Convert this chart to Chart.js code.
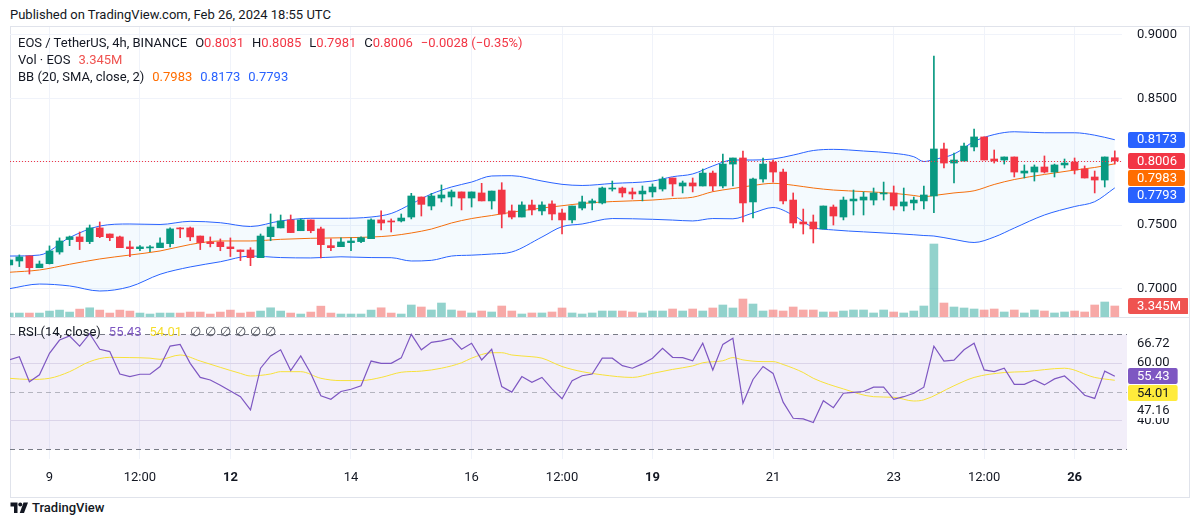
<!DOCTYPE html>
<html>
<head>
<meta charset="utf-8">
<script src="https://cdn.jsdelivr.net/npm/chart.js@4.4.1/dist/chart.umd.min.js"></script>
<style>
body{margin:0;background:#fff;width:1200px;height:525px;overflow:hidden;position:relative;font-family:Roboto,"Noto Sans",sans-serif;color:#131722}
.abs{position:absolute;white-space:nowrap;font-size:13px;line-height:16px}
.k{margin-left:8px}
.r{color:#F23645}
.gap{margin-left:8px}
canvas{position:absolute}
</style>
</head>
<body>
<div class="abs" style="left:10px;top:7px">Published on TradingView.com, Feb 26, 2024 18:55 UTC</div>
<div style="position:absolute;left:10px;top:26px;width:1178px;height:470px;border:1px solid #e0e3eb"></div>
<canvas id="price" width="1178" height="290" style="left:10px;top:27px"></canvas>
<div style="position:absolute;left:11px;top:317px;width:1178px;height:1px;background:#e0e3eb"></div>
<canvas id="rsi" width="1178" height="179" style="left:10px;top:318px"></canvas>

<div class="abs" style="left:18px;top:35px">EOS / TetherUS, 4h, BINANCE<span class="k">O</span><span class="r" id="lo"></span><span class="k">H</span><span class="r" id="lh"></span><span class="k">L</span><span class="r" id="ll"></span><span class="k">C</span><span class="r" id="lc"></span><span class="r gap">−0.0028 (−0.35%)</span></div>
<div class="abs" style="left:18px;top:52px">Vol · EOS<span class="gap" id="lv" style="color:#ef5350"></span></div>
<div class="abs" style="left:18px;top:69px">BB (20, SMA, close, 2)<span class="gap" id="lbm" style="color:#FF6D00"></span><span class="gap" id="lbu" style="color:#2962FF"></span><span class="gap" id="lbl" style="color:#2962FF"></span></div>
<div class="abs" style="left:18px;top:324px">RSI (14, close)<span class="gap" id="lr" style="color:#7E57C2"></span><span class="gap" id="lrm" style="color:#f5dd2a"></span><span class="gap" style="color:#434651;letter-spacing:4px">∅∅∅∅∅∅</span></div>

<div class="abs" style="left:10px;top:500px;font-weight:500;font-size:13px">
<svg width="19" height="13" viewBox="0 0 36 26" style="vertical-align:-2px;margin-right:3px"><path d="M14 24H7V11H0V3h14v21Z" fill="#131722"/><circle cx="19.5" cy="7" r="4" fill="#131722"/><path d="M27 24h-8.5L26 3h9L27 24Z" fill="#131722"/></svg>TradingView</div>

<script>
// time axis (candle index -> label)
const tickIdx  = [4, 13, 22, 34, 46, 55, 64, 76, 88, 97, 106];
const tickText = ['9', '12:00', '12', '14', '16', '12:00', '19', '21', '23', '12:00', '26'];
const boldIdx  = [22, 64, 106];

// 4h candles, Feb 8 08:00 .. Feb 26 16:00
const opens = [0.7185,0.7216,0.7256,0.7163,0.7195,0.7287,0.7385,0.7406,0.7369,0.7477,
  0.7429,0.7406,0.7327,0.7313,0.7319,0.7321,0.7353,0.7477,0.7477,0.7413,
  0.7366,0.7366,0.7327,0.7303,0.7303,0.7242,0.7408,0.7477,0.7540,0.7455,
  0.7540,0.7469,0.7337,0.7329,0.7361,0.7369,0.7392,0.7540,0.7532,0.7532,
  0.7563,0.7721,0.7650,0.7713,0.7721,0.7761,0.7713,0.7753,0.7690,0.7776,
  0.7611,0.7563,0.7658,0.7611,0.7666,0.7595,0.7540,0.7634,0.7674,0.7674,
  0.7784,0.7792,0.7761,0.7745,0.7761,0.7784,0.7871,0.7808,0.7832,0.7808,
  0.7910,0.7808,0.7981,0.8029,0.7682,0.7863,0.7997,0.7918,0.7697,0.7524,
  0.7524,0.7469,0.7642,0.7563,0.7690,0.7697,0.7697,0.7745,0.7753,0.7650,
  0.7674,0.7690,0.7729,0.8100,0.7989,0.8005,0.8116,0.8195,0.8021,0.8013,
  0.8037,0.7910,0.7918,0.7958,0.7918,0.7974,0.7997,0.7942,0.7879,0.7855,
  0.8031];
const highs = [0.7235,0.7264,0.7256,0.7216,0.7335,0.7398,0.7413,0.7445,0.7500,0.7524,
  0.7429,0.7413,0.7374,0.7337,0.7337,0.7398,0.7477,0.7480,0.7484,0.7413,
  0.7406,0.7390,0.7398,0.7303,0.7321,0.7429,0.7587,0.7579,0.7579,0.7548,
  0.7540,0.7484,0.7390,0.7398,0.7398,0.7406,0.7548,0.7611,0.7548,0.7587,
  0.7750,0.7721,0.7750,0.7816,0.7776,0.7761,0.7761,0.7829,0.7768,0.7834,
  0.7658,0.7682,0.7697,0.7682,0.7690,0.7626,0.7650,0.7729,0.7705,0.7800,
  0.7847,0.7800,0.7792,0.7808,0.7824,0.7879,0.7871,0.7847,0.7871,0.7942,
  0.7926,0.8060,0.8029,0.8084,0.7871,0.8029,0.8013,0.7942,0.7753,0.7626,
  0.7579,0.7650,0.7658,0.7721,0.7776,0.7761,0.7792,0.7839,0.7808,0.7792,
  0.7721,0.7808,0.8834,0.8147,0.8068,0.8147,0.8258,0.8195,0.8092,0.8037,
  0.8037,0.7974,0.7974,0.8045,0.7981,0.8021,0.8029,0.7966,0.7926,0.8037,
  0.8085];
const lows = [0.7180,0.7172,0.7113,0.7163,0.7192,0.7270,0.7337,0.7306,0.7353,0.7400,
  0.7376,0.7321,0.7251,0.7297,0.7290,0.7321,0.7327,0.7400,0.7376,0.7306,
  0.7327,0.7297,0.7251,0.7219,0.7179,0.7242,0.7376,0.7477,0.7440,0.7455,
  0.7439,0.7240,0.7297,0.7329,0.7297,0.7361,0.7392,0.7461,0.7445,0.7524,
  0.7548,0.7571,0.7619,0.7682,0.7650,0.7619,0.7642,0.7690,0.7626,0.7477,
  0.7548,0.7563,0.7579,0.7579,0.7540,0.7429,0.7516,0.7619,0.7619,0.7666,
  0.7768,0.7721,0.7705,0.7690,0.7721,0.7768,0.7729,0.7753,0.7761,0.7808,
  0.7768,0.7792,0.7808,0.7524,0.7555,0.7839,0.7839,0.7666,0.7477,0.7429,
  0.7358,0.7469,0.7500,0.7540,0.7579,0.7579,0.7658,0.7697,0.7619,0.7611,
  0.7619,0.7626,0.7597,0.7950,0.7832,0.8005,0.8084,0.8013,0.7989,0.7981,
  0.7879,0.7871,0.7847,0.7910,0.7879,0.7950,0.7903,0.7871,0.7753,0.7800,
  0.7981];
const closes = [0.7224,0.7248,0.7163,0.7192,0.7295,0.7374,0.7406,0.7369,0.7477,0.7408,
  0.7400,0.7321,0.7313,0.7327,0.7327,0.7358,0.7469,0.7469,0.7406,0.7361,
  0.7353,0.7329,0.7313,0.7290,0.7242,0.7413,0.7484,0.7532,0.7440,0.7540,
  0.7455,0.7345,0.7321,0.7366,0.7374,0.7400,0.7540,0.7516,0.7524,0.7555,
  0.7729,0.7663,0.7729,0.7737,0.7761,0.7713,0.7761,0.7690,0.7768,0.7587,
  0.7563,0.7658,0.7619,0.7658,0.7587,0.7540,0.7650,0.7682,0.7690,0.7792,
  0.7792,0.7753,0.7745,0.7768,0.7800,0.7863,0.7824,0.7832,0.7808,0.7910,
  0.7808,0.7981,0.8029,0.7674,0.7863,0.7981,0.7918,0.7690,0.7516,0.7508,
  0.7469,0.7650,0.7571,0.7697,0.7705,0.7721,0.7753,0.7753,0.7650,0.7682,
  0.7697,0.7737,0.8100,0.7989,0.8013,0.8123,0.8195,0.8013,0.8005,0.8037,
  0.7918,0.7926,0.7958,0.7918,0.7974,0.7989,0.7934,0.7871,0.7855,0.8037,
  0.8006];
// volume, millions of EOS
const volumes = [1.2,1.2,1.2,1.2,1.8,2.1,1.5,2.4,2.8,2.1,
  1.2,2.1,1.8,1.2,0.9,1.2,1.2,1.2,1.5,1.5,
  0.9,1.5,2.1,1.2,1.5,1.8,2.8,1.8,1.2,0.9,
  1.5,3.3,1.2,0.9,0.9,0.9,2.1,2.8,1.2,0.9,
  3.65,3.04,2.13,4.25,2.13,1.82,1.22,1.82,1.52,3.34,
  1.82,0.91,1.22,1.22,1.52,2.74,1.22,0.91,1.22,1.82,
  1.82,1.82,1.52,1.22,1.82,1.82,2.43,1.82,2.43,1.82,
  2.74,3.65,2.74,5.47,3.95,1.82,2.13,1.82,3.04,2.13,
  2.13,1.52,1.52,1.82,2.13,2.13,1.22,2.13,1.52,1.22,
  1.82,3.34,22.2,4.25,3.04,2.74,2.43,2.13,2.43,1.52,
  2.13,1.22,2.13,1.82,1.22,1.52,1.82,1.52,3.65,4.56,
  3.345];

// Bollinger bands read at these candle indices
const bbIdx = [0,3,6,9,12,15,18,21,24,27,30,33,36,38,40,42,44,46,48,50,53,55,57,60,64,66,68,70,72,74,76,78,80,82,85,88,90,91,92,94,96,98,100,103,106,108,110];
const bbUpper = [0.7255,0.7263,0.7401,0.7492,0.7508,0.7504,0.7529,0.7518,0.7488,0.7532,
  0.7553,0.7553,0.7563,0.7591,0.7666,0.7745,0.7800,0.7839,0.7887,0.7889,
  0.7847,0.7821,0.7812,0.7828,0.7847,0.7881,0.7903,0.7966,0.8013,0.8013,
  0.8021,0.8052,0.8088,0.8097,0.8084,0.8066,0.8039,0.8001,0.8017,0.8060,
  0.8159,0.8214,0.8236,0.8228,0.8228,0.8209,0.8173];
const bbMiddle = [0.7127,0.7145,0.7190,0.7232,0.7263,0.7295,0.7346,0.7374,0.7374,0.7387,
  0.7395,0.7399,0.7405,0.7415,0.7437,0.7468,0.7516,0.7551,0.7575,0.7601,
  0.7634,0.7652,0.7670,0.7685,0.7697,0.7709,0.7719,0.7763,0.7788,0.7812,
  0.7829,0.7814,0.7792,0.7776,0.7764,0.7750,0.7733,0.7723,0.7733,0.7753,
  0.7770,0.7820,0.7859,0.7899,0.7934,0.7954,0.7983];
const bbLower = [0.6997,0.7034,0.7019,0.6979,0.7013,0.7111,0.7169,0.7210,0.7255,0.7243,
  0.7240,0.7249,0.7243,0.7242,0.7216,0.7221,0.7255,0.7262,0.7271,0.7287,
  0.7405,0.7487,0.7508,0.7551,0.7545,0.7539,0.7532,0.7551,0.7549,0.7595,
  0.7638,0.7577,0.7482,0.7461,0.7446,0.7433,0.7423,0.7417,0.7413,0.7386,
  0.7362,0.7405,0.7476,0.7579,0.7646,0.7684,0.7793];

// RSI (14) per candle, and its moving average read at these indices
const rsi = [61.1,62.2,53.5,55.9,63.4,68.0,69.4,65.9,70.2,64.8,
  64.0,56.2,55.3,56.1,56.1,58.8,65.9,66.5,59.9,55.0,
  54.1,52.3,50.3,48.3,43.7,58.2,62.5,64.6,57.4,62.5,
  56.4,48.6,47.4,50.1,50.9,52.1,60.7,59.9,59.9,61.8,
  70.0,64.6,67.2,67.7,68.6,64.8,66.9,61.1,64.8,51.8,
  49.9,55.3,53.3,55.0,51.0,47.6,53.9,55.6,56.2,61.7,
  61.7,59.1,58.2,59.7,61.7,65.1,62.0,61.9,60.8,66.9,
  57.6,66.5,68.6,46.0,54.3,58.8,56.4,46.4,40.8,40.6,
  39.3,46.9,44.5,49.5,49.8,50.1,51.6,51.6,47.4,48.3,
  49.5,51.6,65.9,60.7,61.0,64.6,66.9,57.6,57.0,58.2,
  52.6,52.6,54.1,52.4,54.5,55.5,52.4,48.8,47.7,57.2,
  55.43];
const rsiMaIdx = [0,2,4,6,8,10,12,14,15,17,19,21,23,24,26,27,29,31,33,35,37,39,41,43,45,46,48,49,50,52,53,55,57,59,62,64,66,68,69,71,72,73,75,76,77,79,80,83,86,88,90,91,94,96,99,101,105,108,110];
const rsiMa = [54.7,54.3,54.7,57.0,60.5,62.0,61.9,61.7,61.3,62.8,60.7,58.5,56.4,55.5,56.2,57.0,57.0,54.7,53.9,53.9,55.0,56.8,57.2,58.2,60.1,61.7,63.6,63.6,62.8,62.2,61.7,58.8,57.0,55.9,55.0,56.4,57.8,59.0,60.1,60.8,61.9,61.1,60.5,60.5,59.5,56.7,54.7,51.0,48.3,48.1,46.8,47.2,52.1,55.0,56.7,57.0,58.2,55.0,54.01];
const rsiSideValues = [66.72, 47.16];

const priceTicks = [0.70, 0.75, 0.80, 0.85, 0.90];
const rsiTicks = [40, 60];

const FONT = 'Roboto, "Noto Sans", sans-serif';
Chart.defaults.font.family = FONT;
Chart.defaults.font.size = 13;
Chart.defaults.color = '#131722';

const UP = '#089981', DOWN = '#F23645';
const n = closes.length;
const last = n - 1;
const isUp = closes.map((c, i) => c >= opens[i]);
const candleColors = isUp.map(u => u ? UP : DOWN);
const volColors = isUp.map(u => u ? 'rgba(38,166,154,0.5)' : 'rgba(239,83,80,0.5)');

const xMin = 0.07, xMax = 110.717;
const GRID = '#f0f3fa';

// legend values
document.getElementById('lo').textContent = opens[last].toFixed(4);
document.getElementById('lh').textContent = highs[last].toFixed(4);
document.getElementById('ll').textContent = lows[last].toFixed(4);
document.getElementById('lc').textContent = closes[last].toFixed(4);
document.getElementById('lv').textContent = volumes[last].toFixed(3) + 'M';
document.getElementById('lbm').textContent = bbMiddle[bbMiddle.length - 1].toFixed(4);
document.getElementById('lbu').textContent = bbUpper[bbUpper.length - 1].toFixed(4);
document.getElementById('lbl').textContent = bbLower[bbLower.length - 1].toFixed(4);
document.getElementById('lr').textContent = rsi[last].toFixed(2);
document.getElementById('lrm').textContent = rsiMa[rsiMa.length - 1].toFixed(2);

function drawTags(ctx, items, x, w) {
  items.sort((a, b) => a.y - b.y);
  let prev = -1e9;
  ctx.save();
  ctx.font = '13px ' + FONT;
  ctx.textAlign = 'left';
  ctx.textBaseline = 'middle';
  items.forEach(it => {
    const y = Math.max(it.y, prev + 17);
    prev = y;
    const tw = Math.max(w, ctx.measureText(it.text).width + 17);
    if (it.bg) {
      ctx.fillStyle = it.bg;
      ctx.beginPath();
      if (ctx.roundRect) ctx.roundRect(x, Math.round(y - 8), tw, 16, 2); else ctx.rect(x, Math.round(y - 8), tw, 16);
      ctx.fill();
    }
    ctx.fillStyle = it.fg;
    ctx.fillText(it.text, x + 9, y + 0.5);
  });
  ctx.restore();
}

const xTicksBuild = s => { s.ticks = tickIdx.map(v => ({ value: v })); };

const priceOverlay = {
  id: 'priceOverlay',
  afterDatasetsDraw(chart) {
    const { ctx, chartArea: a, scales } = chart;
    const y = Math.round(scales.y.getPixelForValue(closes[last])) + 0.5;
    ctx.save();
    ctx.strokeStyle = DOWN;
    ctx.lineWidth = 1;
    ctx.setLineDash([1, 2]);
    ctx.beginPath();
    ctx.moveTo(a.left, y);
    ctx.lineTo(a.right, y);
    ctx.stroke();
    ctx.restore();
  },
  afterDraw(chart) {
    const { ctx, chartArea: a, scales } = chart;
    const x = a.right + 6;
    const k = bbIdx.length - 1;
    drawTags(ctx, [
      { y: scales.y.getPixelForValue(bbUpper[k]), text: bbUpper[k].toFixed(4), bg: '#2962FF', fg: '#fff' },
      { y: scales.y.getPixelForValue(closes[last]), text: closes[last].toFixed(4), bg: DOWN, fg: '#fff' },
      { y: scales.y.getPixelForValue(bbMiddle[k]), text: bbMiddle[k].toFixed(4), bg: '#FF6D00', fg: '#fff' },
      { y: scales.y.getPixelForValue(bbLower[k]), text: bbLower[k].toFixed(4), bg: '#2962FF', fg: '#fff' }
    ], x, 55);
    drawTags(ctx, [
      { y: scales.vol.getPixelForValue(volumes[last]), text: volumes[last].toFixed(3) + 'M', bg: '#ef5350', fg: '#fff' }
    ], x, 57);
  }
};

const bbPts = arr => bbIdx.map((x, k) => ({ x: x, y: arr[k] }));

new Chart(document.getElementById('price'), {
  type: 'bar',
  data: {
    datasets: [
      { type: 'line', data: bbPts(bbUpper), borderColor: '#2962FF', borderWidth: 1, pointRadius: 0,
        cubicInterpolationMode: 'monotone', fill: '+2', backgroundColor: 'rgba(33,150,243,0.05)', order: 5 },
      { type: 'line', data: bbPts(bbMiddle), borderColor: '#FF6D00', borderWidth: 1, pointRadius: 0,
        cubicInterpolationMode: 'monotone', fill: false, order: 5 },
      { type: 'line', data: bbPts(bbLower), borderColor: '#2962FF', borderWidth: 1, pointRadius: 0,
        cubicInterpolationMode: 'monotone', fill: false, order: 5 },
      { type: 'bar', yAxisID: 'vol', data: volumes.map((v, i) => ({ x: i, y: v })),
        backgroundColor: volColors, barThickness: 8, grouped: false, order: 10 },
      { type: 'bar', data: lows.map((l, i) => ({ x: i, y: [l, highs[i]] })),
        backgroundColor: candleColors, barThickness: 1, grouped: false, order: 2 },
      { type: 'bar', data: opens.map((o, i) => ({ x: i, y: [o, closes[i]] })),
        backgroundColor: candleColors, barThickness: 7, minBarLength: 1, grouped: false, order: 1 }
    ]
  },
  options: {
    responsive: false, animation: false, events: [],
    layout: { padding: 0 },
    plugins: { legend: { display: false }, tooltip: { enabled: false } },
    scales: {
      x: { type: 'linear', min: xMin, max: xMax, offset: false,
        afterBuildTicks: xTicksBuild,
        ticks: { display: false },
        grid: { color: GRID, drawTicks: false, offset: false },
        border: { display: false },
        afterFit: s => { s.height = 0; } },
      y: { position: 'right', min: 0.67739, max: 0.90628,
        afterBuildTicks: s => { s.ticks = priceTicks.map(v => ({ value: v })); },
        ticks: { callback: v => v.toFixed(4), padding: 15, color: '#131722' },
        grid: { color: GRID, drawTicks: false },
        border: { display: false },
        afterFit: s => { s.width = 66; s.paddingTop = 0; s.paddingBottom = 0; } },
      vol: { display: false, min: 0, max: 88.2 }
    }
  },
  plugins: [priceOverlay]
});

const rsiOverlay = {
  id: 'rsiOverlay',
  beforeDatasetsDraw(chart) {
    const { ctx, chartArea: a, scales: { y } } = chart;
    const y70 = Math.round(y.getPixelForValue(70)) + 0.5;
    const y50 = Math.round(y.getPixelForValue(50)) + 0.5;
    const y30 = Math.round(y.getPixelForValue(30)) + 0.5;
    ctx.save();
    ctx.fillStyle = 'rgba(126,87,194,0.1)';
    ctx.fillRect(a.left, y70, a.right - a.left + 5, y30 - y70);
    ctx.lineWidth = 1;
    ctx.setLineDash([5, 4]);
    [[y70, '#787B86'], [y30, '#787B86'], [y50, 'rgba(120,123,134,0.5)']].forEach(([yy, c]) => {
      ctx.strokeStyle = c;
      ctx.beginPath();
      ctx.moveTo(a.left, yy);
      ctx.lineTo(a.right + 5, yy);
      ctx.stroke();
    });
    ctx.restore();
  },
  afterDraw(chart) {
    const { ctx, chartArea: a, scales: { y } } = chart;
    drawTags(ctx, [
      { y: y.getPixelForValue(rsiSideValues[0]), text: rsiSideValues[0].toFixed(2), fg: '#131722' },
      { y: y.getPixelForValue(rsi[last]), text: rsi[last].toFixed(2), bg: '#7E57C2', fg: '#fff' },
      { y: y.getPixelForValue(rsiMa[rsiMa.length - 1]), text: rsiMa[rsiMa.length - 1].toFixed(2), bg: '#FFEB3B', fg: '#131722' },
      { y: y.getPixelForValue(rsiSideValues[1]), text: rsiSideValues[1].toFixed(2), bg: '#fff', fg: '#131722' }
    ], a.right + 6, 47);
  }
};

new Chart(document.getElementById('rsi'), {
  type: 'line',
  data: {
    datasets: [
      { data: rsi.map((v, i) => ({ x: i, y: v })), borderColor: '#7E57C2', borderWidth: 1.2, pointRadius: 0, tension: 0 },
      { data: rsiMaIdx.map((x, k) => ({ x: x, y: rsiMa[k] })), borderColor: '#f7e13a', borderWidth: 1, pointRadius: 0,
        cubicInterpolationMode: 'monotone' }
    ]
  },
  options: {
    responsive: false, animation: false, events: [],
    layout: { padding: 0 },
    plugins: { legend: { display: false }, tooltip: { enabled: false } },
    scales: {
      x: { type: 'linear', min: xMin, max: xMax, offset: false,
        afterBuildTicks: xTicksBuild,
        ticks: { autoSkip: false, maxRotation: 0, padding: 11, color: '#131722',
          callback: v => tickText[tickIdx.indexOf(v)],
          font: c => ({ size: 13, weight: (c.tick && boldIdx.includes(c.tick.value)) ? 'bold' : 'normal' }) },
        grid: { color: GRID, drawTicks: false },
        border: { display: false },
        afterFit: s => { s.height = 38; } },
      y: { position: 'right', min: 26.63, max: 75.67,
        afterBuildTicks: s => { s.ticks = rsiTicks.map(v => ({ value: v })); },
        ticks: { callback: v => v.toFixed(2), padding: 15, color: '#131722' },
        grid: { color: '#e6e3ee', drawTicks: false },
        border: { display: false },
        afterFit: s => { s.width = 66; s.paddingTop = 0; s.paddingBottom = 0; } }
    }
  },
  plugins: [rsiOverlay]
});
</script>
</body>
</html>
